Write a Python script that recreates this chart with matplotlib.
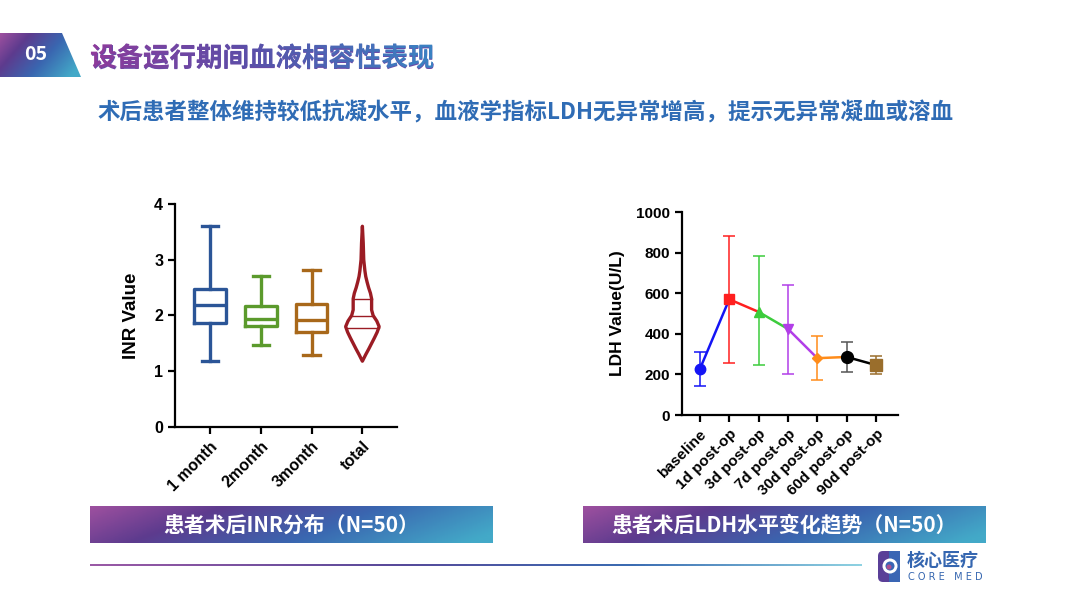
import numpy as np
import matplotlib
matplotlib.use("Agg")
import matplotlib.pyplot as plt
from matplotlib.colors import LinearSegmentedColormap
from matplotlib.patches import Polygon, PathPatch, FancyBboxPatch, Circle, Rectangle
from matplotlib.textpath import TextPath
from matplotlib.font_manager import FontProperties
from matplotlib.transforms import Affine2D

plt.rcParams['font.family'] = ['Liberation Sans', 'Noto Sans CJK SC', 'DejaVu Sans']
CJK = ['Noto Sans CJK SC', 'DejaVu Sans']

# ---- INR data (box stats) ----
inr_groups = ["1 month", "2month", "3month", "total"]
inr_med = [2.18, 1.93, 1.92]
inr_q1 = [1.87, 1.82, 1.70]
inr_q3 = [2.47, 2.17, 2.20]
inr_lo = [1.18, 1.47, 1.30]
inr_hi = [3.60, 2.70, 2.82]
inr_colors = ["#2b5597", "#5b9a2c", "#a8681a"]
# violin outline for "total": INR level vs relative density
violin_y = [1.18, 1.3, 1.4, 1.5, 1.6, 1.7, 1.8, 1.9, 2.0, 2.1, 2.2, 2.3, 2.4, 2.5, 2.6, 2.7, 2.8, 3.0, 3.3, 3.6]
violin_w = [0.0, 0.2, 0.38, 0.55, 0.72, 0.88, 1.0, 0.86, 0.64, 0.55, 0.55, 0.55, 0.48, 0.37, 0.28, 0.2, 0.15, 0.08, 0.05, 0.0]
violin_quart = [1.78, 1.99, 2.29]
violin_color = "#9b1c24"

# ---- LDH data ----
ldh_labels = ["baseline", "1d post-op", "3d post-op", "7d post-op", "30d post-op", "60d post-op", "90d post-op"]
ldh_mean = [227, 570, 508, 424, 280, 286, 246]
ldh_low = [143, 257, 246, 204, 172, 211, 202]
ldh_high = [311, 884, 782, 638, 388, 361, 289]
ldh_colors = ["#1414f5", "#ff1f1f", "#3ccc3c", "#b23ee8", "#ff8c1a", "#000000", "#9a6e2c"]
ldh_markers = ["o", "s", "^", "v", "D", "o", "s"]
ldh_msize = [7.5, 7.5, 7.5, 7.5, 5.5, 8.5, 8.5]
ldh_ecolors = ["#1414f5", "#ff1f1f", "#3ccc3c", "#b23ee8", "#ff8c1a", "#555555", "#9a6e2c"]

title = "设备运行期间血液相容性表现"
subtitle = "术后患者整体维持较低抗凝水平，血液学指标LDH无异常增高，提示无异常凝血或溶血"
banner_left = "患者术后INR分布（N=50）"
banner_right = "患者术后LDH水平变化趋势（N=50）"

fig = plt.figure(figsize=(10.8, 6.08), dpi=100)
fig.patch.set_facecolor("white")

# background axes in pixel coordinates (y down)
bg = fig.add_axes([0, 0, 1, 1])
bg.set_axis_off()

band_cmap = LinearSegmentedColormap.from_list(
    "band", [(0, "#9d509f"), (0.28, "#5d3b8e"), (0.62, "#3a66b0"), (1, "#43a9c8")])
title_cmap = LinearSegmentedColormap.from_list(
    "ttl", [(0, "#8f3b9b"), (0.45, "#5b4ea8"), (1, "#3a82c3")])
line_cmap = LinearSegmentedColormap.from_list(
    "ln", [(0, "#9b5aa6"), (0.4, "#574a9a"), (0.7, "#3b6cb2"), (1, "#8fd2e2")])

hgrad = np.linspace(0, 1, 256).reshape(1, -1)

# badge "05"
yy, xx = np.mgrid[0:1:50j, 0:1:100j]
badge = Polygon([(0, 33), (62, 33), (81, 77), (0, 77)], closed=True, facecolor="none", edgecolor="none")
bg.add_patch(badge)
im = bg.imshow(0.75 * xx + 0.35 * yy, extent=[0, 81, 77, 33], cmap=band_cmap, aspect="auto", vmin=0, vmax=1)
im.set_clip_path(badge)
bg.text(36, 55, "05", color="white", fontsize=14, fontweight="bold", ha="center", va="center", family=CJK)

# title with gradient colour (real text underneath, gradient clipped to the same glyphs on top)
tx, tbase, tsize = 90, 66, 26.5
fp = FontProperties(family="Noto Sans CJK SC", weight="bold")
bg.text(tx, tbase, title, fontsize=tsize * 0.72, fontweight="bold", color="#6a4aa6",
        ha="left", va="baseline", family=CJK, zorder=2)
tpath = TextPath((0, 0), title, size=tsize, prop=fp)
tpatch = PathPatch(tpath, transform=Affine2D().scale(1, -1).translate(tx, tbase) + bg.transData,
                   facecolor="none", edgecolor="none")
bg.add_patch(tpatch)
tw = tpath.get_extents().width
im = bg.imshow(hgrad, extent=[tx, tx + tw, tbase + 10, tbase - 30], cmap=title_cmap, aspect="auto", zorder=5)
im.set_clip_path(tpatch)

bg.text(97, 113, subtitle, fontsize=16.2, fontweight="bold", color="#2f6cb5",
        ha="left", va="center", family=CJK)

# banners
for x0, x1, txt in [(90, 493, banner_left), (583, 986, banner_right)]:
    bg.imshow(0.85 * xx + 0.2 * yy, extent=[x0, x1, 543, 506], cmap=band_cmap, aspect="auto", vmin=0, vmax=1)
    bg.text((x0 + x1) / 2, 525, txt, color="white", fontsize=15, fontweight="bold",
            ha="center", va="center", family=CJK)

# bottom line
bg.imshow(hgrad, extent=[90, 862, 566, 564], cmap=line_cmap, aspect="auto")

# logo
bg.add_patch(FancyBboxPatch((878, 551), 22, 31, boxstyle="round,pad=0,rounding_size=5",
                            facecolor="#5a3f98", edgecolor="none"))
bg.add_patch(Rectangle((889, 551), 11, 31, facecolor="#3a66b4", edgecolor="none"))
bg.add_patch(Circle((890, 566), 7.5, facecolor="white", edgecolor="none"))
bg.add_patch(Circle((890, 566), 4.5, facecolor="#3a66b4", edgecolor="none"))
bg.add_patch(Circle((889, 567), 2.5, facecolor="#b0508f", edgecolor="none"))
bg.text(907, 560, "核心医疗", color="#3566b0", fontsize=13, fontweight="bold", ha="left", va="center", family=CJK)
bg.text(908, 577, "C O R E   M E D", color="#3566b0", fontsize=7, ha="left", va="center", family=["DejaVu Sans"])

bg.set_xlim(0, 1080)
bg.set_ylim(608, 0)


def style_axes(ax, fs):
    for s in ["top", "right"]:
        ax.spines[s].set_visible(False)
    for s in ["left", "bottom"]:
        ax.spines[s].set_linewidth(1.6)
    ax.tick_params(axis="both", width=1.6, length=5, labelsize=fs)
    for lbl in ax.get_yticklabels() + ax.get_xticklabels():
        lbl.set_fontweight("bold")


# ---- left: INR box + violin ----
ax1 = fig.add_axes([0.162, 0.2977, 0.206, 0.3668])
stats = []
for i in range(3):
    stats.append(dict(med=inr_med[i], q1=inr_q1[i], q3=inr_q3[i],
                      whislo=inr_lo[i], whishi=inr_hi[i], fliers=[]))
bp = ax1.bxp(stats, positions=[0, 1, 2], widths=0.62, showfliers=False, patch_artist=False)
for i, c in enumerate(inr_colors):
    bp["boxes"][i].set(color=c, linewidth=2.4)
    bp["medians"][i].set(color=c, linewidth=2.4)
    for w in bp["whiskers"][2 * i:2 * i + 2]:
        w.set(color=c, linewidth=2.4)
    for cap in bp["caps"][2 * i:2 * i + 2]:
        cap.set(color=c, linewidth=2.4)
        mid = np.mean(cap.get_xdata())
        cap.set_xdata([mid - 0.16, mid + 0.16])

vy = np.array(violin_y)
vw = np.array(violin_w) * 0.33
ax1.fill(np.concatenate([3 + vw, (3 - vw)[::-1]]), np.concatenate([vy, vy[::-1]]),
         facecolor="white", edgecolor=violin_color, linewidth=2.4, joinstyle="round")
for q in violin_quart:
    hw = np.interp(q, vy, vw)
    ax1.plot([3 - hw, 3 + hw], [q, q], color=violin_color, linewidth=1.0)

ax1.set_xlim(-0.69, 3.69)
ax1.set_ylim(0, 4)
ax1.set_yticks([0, 1, 2, 3, 4])
ax1.set_xticks(range(4))
ax1.set_xticklabels(inr_groups, rotation=45, ha="right", rotation_mode="anchor")
ax1.set_ylabel("INR Value", fontsize=13.5, fontweight="bold", labelpad=10)
style_axes(ax1, 11.5)

# ---- right: LDH trend ----
ax2 = fig.add_axes([0.6315, 0.3174, 0.2, 0.3339])
xs = np.arange(len(ldh_labels))
for i in range(len(xs) - 1):
    ax2.plot(xs[i:i + 2], ldh_mean[i:i + 2], color=ldh_colors[i], linewidth=1.8, zorder=2)
for i in range(len(xs)):
    ax2.errorbar(xs[i], ldh_mean[i],
                 yerr=[[ldh_mean[i] - ldh_low[i]], [ldh_high[i] - ldh_mean[i]]],
                 fmt=ldh_markers[i], color=ldh_colors[i], ecolor=ldh_ecolors[i],
                 markersize=ldh_msize[i], elinewidth=1.1, capsize=4, capthick=1.1, zorder=3)
ax2.set_xlim(-0.61, 6.75)
ax2.set_ylim(0, 1000)
ax2.set_yticks([0, 200, 400, 600, 800, 1000])
ax2.set_xticks(xs)
ax2.set_xticklabels(ldh_labels, rotation=45, ha="right", rotation_mode="anchor")
ax2.set_ylabel("LDH Value(U/L)", fontsize=12.5, fontweight="bold", labelpad=8)
style_axes(ax2, 11)

fig.savefig("out.png", dpi=100)
